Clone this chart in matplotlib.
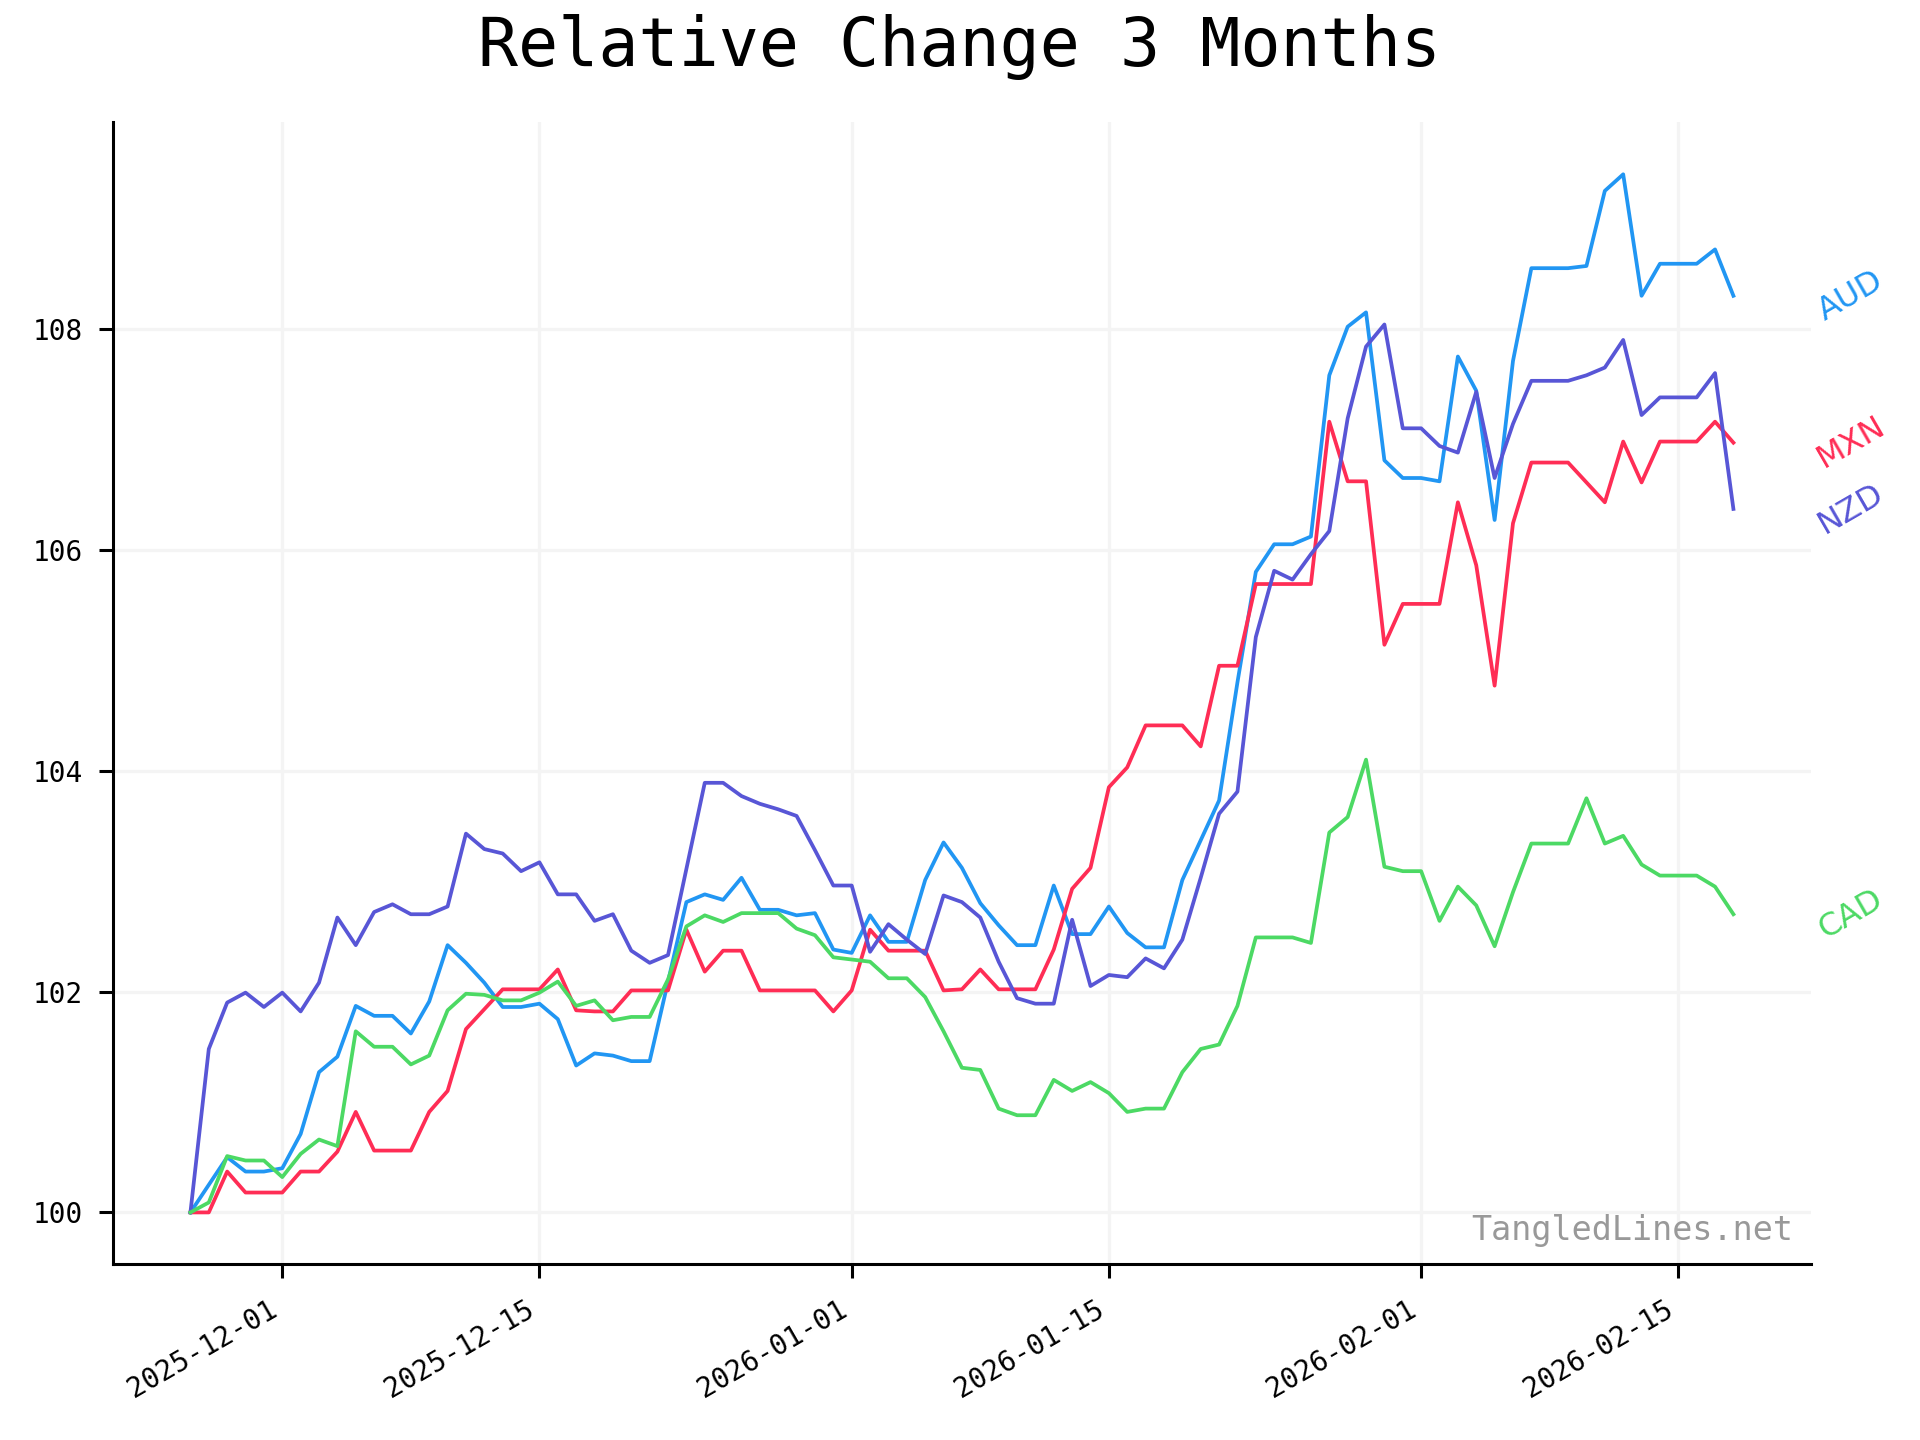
import pandas as pd
import matplotlib
matplotlib.use("Agg")
import matplotlib.pyplot as plt
import matplotlib.dates as mdates
from matplotlib.ticker import MultipleLocator

# daily values, 2025-11-26 .. 2026-02-18
dates = pd.date_range("2025-11-26", "2026-02-18", freq="D")

aud = [100.00, 100.25, 100.50, 100.37, 100.37, 100.40, 100.71, 101.27, 101.41, 101.87,
       101.78, 101.78, 101.62, 101.91, 102.42, 102.26, 102.08, 101.86, 101.86, 101.89,
       101.75, 101.33, 101.44, 101.42, 101.37, 101.37, 102.09, 102.81, 102.88, 102.83,
       103.03, 102.74, 102.74, 102.69, 102.71, 102.38, 102.35, 102.69, 102.45, 102.45,
       103.01, 103.35, 103.12, 102.80, 102.60, 102.42, 102.42, 102.96, 102.52, 102.52,
       102.77, 102.53, 102.40, 102.40, 103.01, 103.37, 103.73, 104.80, 105.80, 106.05,
       106.05, 106.12, 107.58, 108.02, 108.15, 106.81, 106.65, 106.65, 106.62, 107.75,
       107.44, 106.27, 107.71, 108.55, 108.55, 108.55, 108.57, 109.25, 109.40, 108.30,
       108.59, 108.59, 108.59, 108.72, 108.30]

mxn = [100.00, 100.00, 100.37, 100.18, 100.18, 100.18, 100.37, 100.37, 100.55, 100.91,
       100.56, 100.56, 100.56, 100.91, 101.10, 101.66, 101.84, 102.02, 102.02, 102.02,
       102.20, 101.83, 101.82, 101.82, 102.01, 102.01, 102.01, 102.56, 102.18, 102.37,
       102.37, 102.01, 102.01, 102.01, 102.01, 101.82, 102.01, 102.56, 102.37, 102.37,
       102.37, 102.01, 102.02, 102.20, 102.02, 102.02, 102.02, 102.38, 102.93, 103.12,
       103.85, 104.03, 104.41, 104.41, 104.41, 104.22, 104.95, 104.95, 105.69, 105.69,
       105.69, 105.69, 107.16, 106.62, 106.62, 105.14, 105.51, 105.51, 105.51, 106.43,
       105.86, 104.77, 106.24, 106.79, 106.79, 106.79, 106.61, 106.43, 106.98, 106.61,
       106.98, 106.98, 106.98, 107.16, 106.97]

nzd = [100.00, 101.48, 101.90, 101.99, 101.86, 101.99, 101.82, 102.08, 102.67, 102.42,
       102.72, 102.79, 102.70, 102.70, 102.77, 103.43, 103.29, 103.25, 103.09, 103.17,
       102.88, 102.88, 102.64, 102.70, 102.37, 102.26, 102.33, 103.11, 103.89, 103.89,
       103.77, 103.70, 103.65, 103.59, 103.28, 102.96, 102.96, 102.36, 102.61, 102.47,
       102.34, 102.87, 102.81, 102.67, 102.27, 101.94, 101.89, 101.89, 102.65, 102.05,
       102.15, 102.13, 102.30, 102.21, 102.47, 103.03, 103.61, 103.81, 105.21, 105.81,
       105.73, 105.96, 106.17, 107.19, 107.84, 108.04, 107.10, 107.10, 106.94, 106.88,
       107.43, 106.65, 107.14, 107.53, 107.53, 107.53, 107.58, 107.65, 107.90, 107.22,
       107.38, 107.38, 107.38, 107.60, 106.37]

cad = [100.00, 100.09, 100.51, 100.47, 100.47, 100.32, 100.53, 100.66, 100.60, 101.64,
       101.50, 101.50, 101.34, 101.42, 101.83, 101.98, 101.97, 101.92, 101.92, 101.99,
       102.09, 101.87, 101.92, 101.74, 101.77, 101.77, 102.11, 102.59, 102.69, 102.63,
       102.71, 102.71, 102.71, 102.57, 102.51, 102.31, 102.29, 102.27, 102.12, 102.12,
       101.95, 101.64, 101.31, 101.29, 100.94, 100.88, 100.88, 101.20, 101.10, 101.18,
       101.08, 100.91, 100.94, 100.94, 101.27, 101.48, 101.52, 101.87, 102.49, 102.49,
       102.49, 102.44, 103.44, 103.58, 104.10, 103.13, 103.09, 103.09, 102.64, 102.95,
       102.78, 102.41, 102.90, 103.34, 103.34, 103.34, 103.75, 103.34, 103.41, 103.15,
       103.05, 103.05, 103.05, 102.95, 102.70]

series = [("AUD", aud, "#2196F3"),
          ("MXN", mxn, "#FF2D55"),
          ("NZD", nzd, "#5856D6"),
          ("CAD", cad, "#4CD964")]

mono = "DejaVu Sans Mono"

fig, ax = plt.subplots(figsize=(9.6, 7.2), dpi=200)

for name, vals, color in series:
    ax.plot(dates, vals, color=color, lw=1.35)
    ax.text(dates[-1] + pd.Timedelta(days=6.4), vals[-1], name, color=color,
            fontsize=11.5, family="DejaVu Sans", rotation=30,
            ha="center", va="center", clip_on=False)

ax.xaxis.set_major_locator(mdates.DayLocator(bymonthday=[1, 15]))
ax.xaxis.set_major_formatter(mdates.DateFormatter("%Y-%m-%d"))
ax.yaxis.set_major_locator(MultipleLocator(2))

ax.grid(True, color="#f4f4f4", lw=1.2)
ax.set_axisbelow(True)
for side in ["top", "right"]:
    ax.spines[side].set_visible(False)
for side in ["left", "bottom"]:
    ax.spines[side].set_linewidth(1.1)
ax.tick_params(length=5, width=1.1, pad=6, labelsize=10)
for lbl in ax.get_xticklabels() + ax.get_yticklabels():
    lbl.set_family(mono)

fig.autofmt_xdate(rotation=30, ha="right")

ax.text(0.99, 0.015, "TangledLines.net", transform=ax.transAxes,
        ha="right", va="bottom", fontsize=12, family=mono, color="#999999")

fig.suptitle("Relative Change 3 Months", fontsize=24, family=mono, y=0.99)

fig.subplots_adjust(left=0.059, right=0.943, top=0.915, bottom=0.122)
fig.savefig("out.png", dpi=200)
